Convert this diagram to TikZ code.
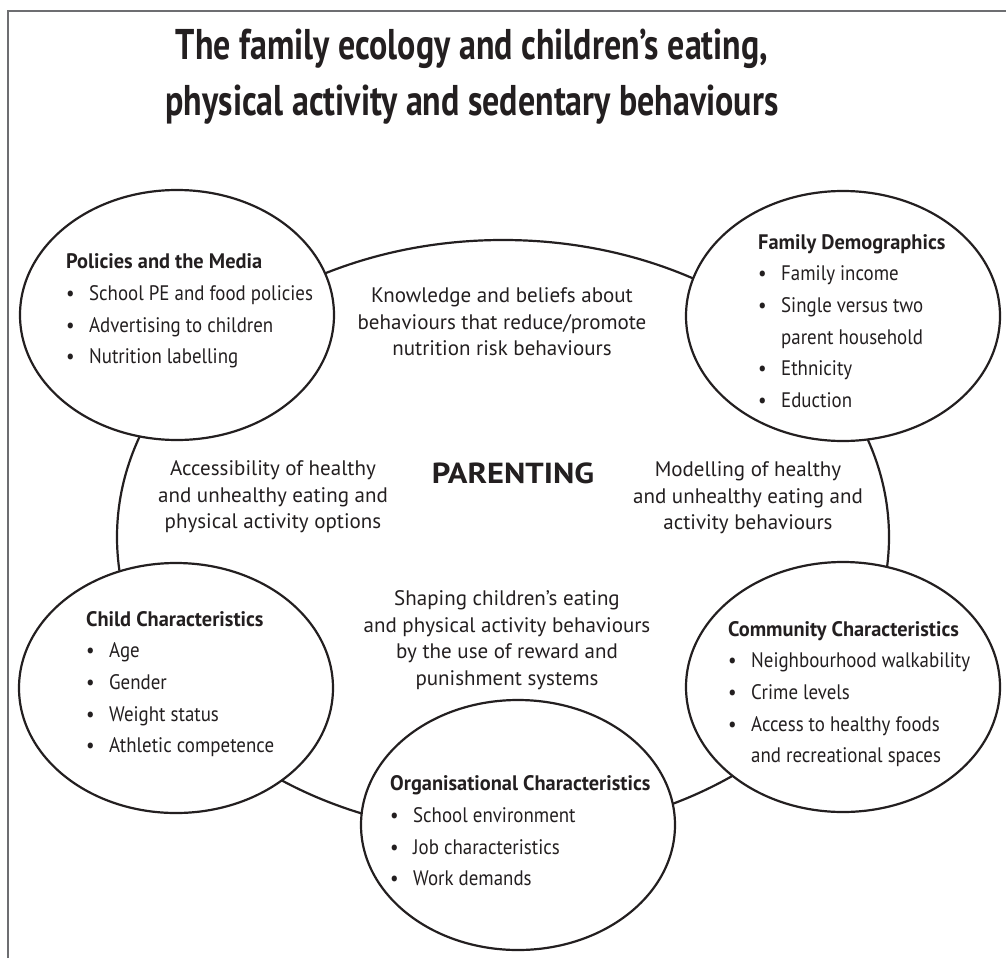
\documentclass[tikz,border=0pt]{standalone}
\usepackage{fontspec}
\setmainfont{PT Sans}
\newfontfamily\narrowfont[FakeStretch=0.9]{PT Sans}
\newfontfamily\headfont[FakeStretch=0.97]{PT Sans}
\newfontfamily\widefont[FakeStretch=1.12]{PT Sans}
\newfontfamily\titlefont[FakeStretch=0.79]{PT Sans}
\usetikzlibrary{shapes.geometric}
\definecolor{ink}{HTML}{231F20}
\definecolor{framegray}{HTML}{6D6E71}
\newcommand{\blob}{\makebox[23pt][l]{\textbullet}}
\newcommand{\gap}{\makebox[23pt]{}}
\newcommand{\head}[1]{{\headfont\bfseries #1}}

\tikzset{
  factor/.style={ellipse, draw=ink, line width=2.2pt, fill=white, inner sep=0pt,
    minimum width=314pt, minimum height=250pt},
  factortext/.style={anchor=west, align=left, inner sep=0pt, text=ink,
    font=\narrowfont\fontsize{21}{31.7}\selectfont},
  linktext/.style={align=center, inner sep=0pt, text=ink,
    font=\fontsize{21}{26.5}\selectfont},
}

\begin{document}
\begin{tikzpicture}[x=1pt,y=-1pt]
\useasboundingbox (0,0) rectangle (1006,958);

% frame, cut off at right and bottom
\draw[framegray, line width=1.4pt] (8,958) -- (8,11) -- (1006,11);

\node (title) at (472,77) [align=center, text=ink,
  font=\titlefont\bfseries\fontsize{43}{56}\selectfont]
  {The family ecology and children’s eating,\\physical activity and sedentary behaviours};

% parenting ring first, the five factors sit on top of it
\node (ring) at (503,537) [factor, minimum width=772pt, minimum height=594pt] {};
\node (pol)   at (177,315) [factor] {};
\node (fam)   at (843,316) [factor] {};
\node (child) at (176,688) [factor] {};
\node (comm)  at (843,687) [factor] {};
\node (org)   at (518,825) [factor] {};

\node (pol-txt) at (66,311) [factortext] {\head{Policies and the Media}\\
  \blob School PE and food policies\\
  \blob Advertising to children\\
  \blob Nutrition labelling};
\node (fam-txt) at (758,321) [factortext] {\head{Family Demographics}\\
  \blob Family income\\
  \blob Single versus two\\
  \gap parent household\\
  \blob Ethnicity\\
  \blob Eduction};
\node (child-txt) at (86,684) [factortext] {\head{Child Characteristics}\\
  \blob Age\\
  \blob Gender\\
  \blob Weight status\\
  \blob Athletic competence};
\node (comm-txt) at (728,694) [factortext] {\head{Community Characteristics}\\
  \blob Neighbourhood walkability\\
  \blob Crime levels\\
  \blob Access to healthy foods\\
  \gap and recreational spaces};
\node (org-txt) at (390,831) [factortext] {\head{Organisational Characteristics}\\
  \blob School environment\\
  \blob Job characteristics\\
  \blob Work demands};

\node (parenting) at (513,473) [text=ink, inner sep=0pt,
  font=\widefont\bfseries\fontsize{29}{32}\selectfont] {PARENTING};

\node (know) at (502,322) [linktext] {Knowledge and beliefs about\\
  behaviours that reduce/promote\\nutrition risk behaviours};
\node (access) at (273,497) [linktext] {Accessibility of healthy\\
  and unhealthy eating and\\physical activity options};
\node (model) at (748,498) [linktext] {Modelling of healthy\\
  and unhealthy eating and\\activity behaviours};
\node (shape) at (507,640) [linktext] {Shaping children’s eating\\
  and physical activity behaviours\\by the use of reward and\\punishment systems};

\end{tikzpicture}
\end{document}
